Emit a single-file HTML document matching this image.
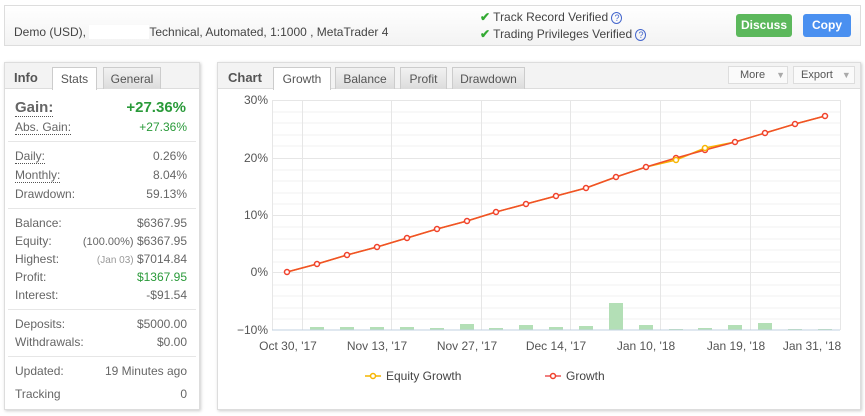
<!DOCTYPE html>
<html><head><meta charset="utf-8"><style>
*{box-sizing:border-box;margin:0;padding:0}
body{width:865px;height:416px;background:#fff;font-family:"Liberation Sans",Verdana,sans-serif;font-size:12px;color:#555;position:relative;overflow:hidden}
.abs{position:absolute}
.box{position:absolute;border:1px solid #ddd;background:#fff;box-shadow:1px 1px 3px #ccc}
.tab{position:absolute;height:22px;border:1px solid #ccc;border-bottom:none;background:linear-gradient(#f2f2f2,#dcdcdc);text-align:center;line-height:22px;color:#555;font-size:12px}
.tab.on{background:#fff;height:23px}
.row{position:absolute;left:15px;width:172px;height:16px;font-size:12px;color:#666}
.row span{position:absolute;right:0}
.sep{position:absolute;left:8px;width:188px;height:1px;background:#e6e6e6}
.u{border-bottom:1px dotted #555}
</style></head><body>
<div class="box" style="left:4px;top:5px;width:857px;height:41px;background:linear-gradient(#fff,#f3f3f3);box-shadow:none;border-color:#ddd"></div>
<div class="abs" style="left:14px;top:25px;font-size:12px;color:#444">Demo (USD), <span style="display:inline-block;width:60px;background:#fff">&nbsp;</span>Technical, Automated, 1:1000 , MetaTrader 4</div>
<div class="abs" style="left:480px;top:9px;font-size:12px;color:#444;line-height:16px"><span style="color:#3a3;font-weight:bold">✔</span> Track Record Verified <span style="color:#46c;font-size:9px;border:1px solid #46c;border-radius:50%;padding:0 2px">?</span><br><span style="color:#3a3;font-weight:bold">✔</span> Trading Privileges Verified <span style="color:#46c;font-size:9px;border:1px solid #46c;border-radius:50%;padding:0 2px">?</span></div>
<div class="abs" style="left:736px;top:14px;width:56px;height:23px;background:#5cb85c;border-radius:3px;color:#fff;font-weight:bold;text-align:center;line-height:23px;font-size:12px">Discuss</div>
<div class="abs" style="left:803px;top:14px;width:48px;height:23px;background:#4a90f0;border-radius:3px;color:#fff;font-weight:bold;text-align:center;line-height:23px;font-size:12px">Copy</div>

<!-- left panel -->
<div class="box" style="left:4px;top:62px;width:196px;height:348px"></div>
<div class="abs" style="left:5px;top:63px;width:194px;height:26px;background:#f3f3f3;border-bottom:1px solid #ddd"></div>
<div class="abs" style="left:14px;top:70px;font-weight:bold;font-size:13px;color:#555">Info</div>
<div class="tab on" style="left:52px;top:67px;width:45px">Stats</div>
<div class="tab" style="left:103px;top:67px;width:58px">General</div>
<div class="abs" style="left:15px;top:99px;font-size:15px;font-weight:bold;color:#666"><span class="u">Gain:</span></div>
<div class="abs" style="left:100px;top:99px;width:86px;text-align:right;font-size:15px;font-weight:bold;color:#2a9a3a">+27.36%</div>
<div class="row" style="top:120px"><b style="font-weight:normal" class="u">Abs. Gain:</b><span style="color:#2a9a3a">+27.36%</span></div>
<div class="sep" style="top:141px"></div>
<div class="row" style="top:149px"><b style="font-weight:normal" class="u">Daily:</b><span>0.26%</span></div>
<div class="row" style="top:168px"><b style="font-weight:normal" class="u">Monthly:</b><span>8.04%</span></div>
<div class="row" style="top:187px">Drawdown:<span>59.13%</span></div>
<div class="sep" style="top:208px"></div>
<div class="row" style="top:216px">Balance:<span>$6367.95</span></div>
<div class="row" style="top:234px">Equity:<span><small style="font-size:11px">(100.00%)</small> $6367.95</span></div>
<div class="row" style="top:252px">Highest:<span><small style="font-size:10px;color:#999">(Jan 03)</small> $7014.84</span></div>
<div class="row" style="top:270px">Profit:<span style="color:#2a9a3a">$1367.95</span></div>
<div class="row" style="top:288px">Interest:<span>-$91.54</span></div>
<div class="sep" style="top:309px"></div>
<div class="row" style="top:317px">Deposits:<span>$5000.00</span></div>
<div class="row" style="top:335px">Withdrawals:<span>$0.00</span></div>
<div class="sep" style="top:356px"></div>
<div class="row" style="top:364px">Updated:<span>19 Minutes ago</span></div>
<div class="row" style="top:387px">Tracking<span>0</span></div>

<!-- chart panel -->
<div class="box" style="left:217px;top:62px;width:644px;height:348px"></div>
<div class="abs" style="left:218px;top:63px;width:642px;height:26px;background:#f3f3f3;border-bottom:1px solid #ddd"></div>
<div class="abs" style="left:228px;top:70px;font-weight:bold;font-size:13px;color:#555">Chart</div>
<div class="tab on" style="left:273px;top:67px;width:58px">Growth</div>
<div class="tab" style="left:335px;top:67px;width:60px">Balance</div>
<div class="tab" style="left:400px;top:67px;width:47px">Profit</div>
<div class="tab" style="left:452px;top:67px;width:73px">Drawdown</div>
<div class="abs" style="left:728px;top:66px;width:60px;height:18px;border:1px solid #ddd;background:#fafafa;line-height:16px;padding-left:11px;font-size:11px">More <span style="color:#aaa;margin-left:8px;font-size:9px">▼</span></div>
<div class="abs" style="left:793px;top:66px;width:62px;height:18px;border:1px solid #ddd;background:#fafafa;line-height:16px;padding-left:7px;font-size:11px">Export <span style="color:#aaa;margin-left:6px;font-size:9px">▼</span></div>

<svg class="abs" style="left:0;top:0" width="865" height="416" font-family="Liberation Sans, sans-serif" font-size="12" fill="#555">
<g stroke="#f2f2f2" stroke-width="1">
<line x1="272" x2="840" y1="112" y2="112"/><line x1="272" x2="840" y1="123" y2="123"/><line x1="272" x2="840" y1="135" y2="135"/><line x1="272" x2="840" y1="146" y2="146"/>
<line x1="272" x2="840" y1="170" y2="170"/><line x1="272" x2="840" y1="181" y2="181"/><line x1="272" x2="840" y1="193" y2="193"/><line x1="272" x2="840" y1="204" y2="204"/>
<line x1="272" x2="840" y1="227" y2="227"/><line x1="272" x2="840" y1="239" y2="239"/><line x1="272" x2="840" y1="250" y2="250"/><line x1="272" x2="840" y1="262" y2="262"/>
<line x1="272" x2="840" y1="285" y2="285"/><line x1="272" x2="840" y1="296" y2="296"/><line x1="272" x2="840" y1="308" y2="308"/><line x1="272" x2="840" y1="319" y2="319"/>
</g>
<g stroke="#e6e6e6" stroke-width="1">
<line x1="272" x2="840" y1="100.5" y2="100.5"/><line x1="272" x2="840" y1="158.5" y2="158.5"/><line x1="272" x2="840" y1="215.5" y2="215.5"/><line x1="272" x2="840" y1="272.5" y2="272.5"/>
<line x1="272.5" x2="272.5" y1="100" y2="330"/><line x1="840.5" x2="840.5" y1="100" y2="330"/>
<line x1="302.5" x2="302.5" y1="100" y2="330"/><line x1="391.5" x2="391.5" y1="100" y2="330"/><line x1="481.5" x2="481.5" y1="100" y2="330"/><line x1="570.5" x2="570.5" y1="100" y2="330"/><line x1="660.5" x2="660.5" y1="100" y2="330"/><line x1="750.5" x2="750.5" y1="100" y2="330"/>
</g>
<g fill="#b3dfb6">
<rect x="310" y="327" width="14" height="3"/><rect x="340" y="327" width="14" height="3"/><rect x="370" y="327" width="14" height="3"/><rect x="400" y="327" width="14" height="3"/><rect x="430" y="328" width="14" height="2"/><rect x="460" y="324" width="14" height="6"/><rect x="489" y="328" width="14" height="2"/><rect x="519" y="325" width="14" height="5"/><rect x="549" y="327" width="14" height="3"/><rect x="579" y="326" width="14" height="4"/><rect x="609" y="303" width="14" height="27"/><rect x="639" y="325" width="14" height="5"/><rect x="669" y="329" width="14" height="1"/><rect x="698" y="328" width="14" height="2"/><rect x="728" y="325" width="14" height="5"/><rect x="758" y="323" width="14" height="7"/><rect x="788" y="329" width="14" height="1"/><rect x="818" y="329" width="14" height="1"/>
</g>
<line x1="272" x2="840" y1="330" y2="330" stroke="#c0d0e0"/>
<g text-anchor="end"><text x="268" y="104">30%</text><text x="268" y="162">20%</text><text x="268" y="219">10%</text><text x="268" y="276">0%</text><text x="268" y="334">−10%</text></g>
<g text-anchor="middle"><text x="288" y="350">Oct 30, '17</text><text x="377" y="350">Nov 13, '17</text><text x="467" y="350">Nov 27, '17</text><text x="556" y="350">Dec 14, '17</text><text x="646" y="350">Jan 10, '18</text><text x="736" y="350">Jan 19, '18</text><text x="812" y="350">Jan 31, '18</text></g>
<polyline fill="none" stroke="#f7b500" stroke-width="1.5" points="287,272 317,264 347,255 377,247 407,238 437,229 467,221 496,212 526,204 556,196 586,188 616,177 646,167 676,160 705,148 735,142 765,133 795,124 825,116"/>
<polyline fill="none" stroke="#f0502a" stroke-width="1.5" points="287,272 317,264 347,255 377,247 407,238 437,229 467,221 496,212 526,204 556,196 586,188 616,177 646,167 676,158 705,150 735,142 765,133 795,124 825,116"/>
<g fill="#fff" stroke="#f0402a" stroke-width="1.5">
<circle cx="287" cy="272" r="2.5"/><circle cx="317" cy="264" r="2.5"/><circle cx="347" cy="255" r="2.5"/><circle cx="377" cy="247" r="2.5"/><circle cx="407" cy="238" r="2.5"/><circle cx="437" cy="229" r="2.5"/><circle cx="467" cy="221" r="2.5"/><circle cx="496" cy="212" r="2.5"/><circle cx="526" cy="204" r="2.5"/><circle cx="556" cy="196" r="2.5"/><circle cx="586" cy="188" r="2.5"/><circle cx="616" cy="177" r="2.5"/><circle cx="646" cy="167" r="2.5"/><circle cx="676" cy="158" r="2.5"/><circle cx="705" cy="150" r="2.5"/><circle cx="735" cy="142" r="2.5"/><circle cx="765" cy="133" r="2.5"/><circle cx="795" cy="124" r="2.5"/><circle cx="825" cy="116" r="2.5"/>
</g>
<g fill="#fff" stroke="#f7b500" stroke-width="1.5"><circle cx="676" cy="160" r="2.5"/><circle cx="705" cy="148" r="2.5"/></g>
<line x1="365" x2="381" y1="376" y2="376" stroke="#f7c840" stroke-width="2"/><circle cx="373" cy="376" r="2.5" fill="#fff" stroke="#f7b500" stroke-width="1.5"/>
<text x="386" y="380" fill="#444">Equity Growth</text>
<line x1="545" x2="561" y1="376" y2="376" stroke="#f08080" stroke-width="2"/><circle cx="553" cy="376" r="2.5" fill="#fff" stroke="#f0402a" stroke-width="1.5"/>
<text x="566" y="380" fill="#444">Growth</text>
</svg>
</body></html>
